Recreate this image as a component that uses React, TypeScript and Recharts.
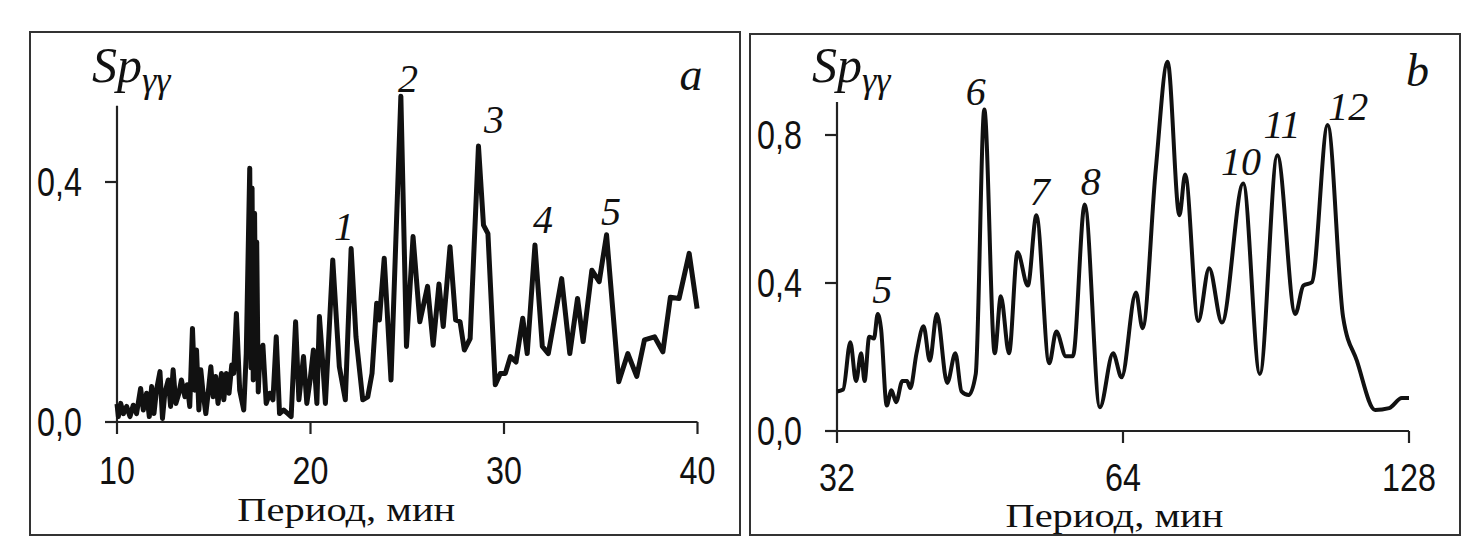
import React from 'react';
import { LineChart, Line, XAxis, YAxis, ReferenceLine, ReferenceDot } from 'recharts';

const SANS = '"Liberation Sans", Arial, sans-serif';
const SERIF = '"Liberation Serif", "Times New Roman", serif';
const INK = '#111';
const AXIS = '#222';

// panel a: period 10–40 min
const periodA = [
  10.0, 10.07, 10.19, 10.33, 10.5, 10.67, 10.84, 11.01, 11.22, 11.36, 11.53, 11.67, 11.79, 11.91,
  12.04, 12.22, 12.35, 12.47, 12.65, 12.77, 12.9, 13.04, 13.2, 13.33, 13.51, 13.63, 13.76, 13.9,
  14.02, 14.11, 14.23, 14.33, 14.45, 14.59, 14.71, 14.85, 14.97, 15.1, 15.22, 15.4, 15.52, 15.65,
  15.79, 15.93, 16.03, 16.17, 16.34, 16.55, 16.68, 16.86, 16.93, 16.98, 17.04, 17.11, 17.17, 17.22,
  17.3, 17.38, 17.54, 17.71, 17.89, 18.06, 18.23, 18.4, 18.61, 18.83, 19.0, 19.23, 19.4, 19.64,
  19.81, 19.98, 20.15, 20.33, 20.46, 20.6, 20.77, 21.15, 21.49, 21.8, 22.1, 22.35, 22.7, 22.96,
  23.18, 23.42, 23.56, 23.81, 24.16, 24.67, 24.96, 25.3, 25.65, 26.05, 26.34, 26.64, 26.86, 27.21,
  27.5, 27.73, 27.95, 28.25, 28.68, 28.94, 29.17, 29.55, 29.81, 30.07, 30.33, 30.62, 30.97, 31.2,
  31.6, 31.98, 32.29, 32.98, 33.4, 33.8, 34.09, 34.54, 34.92, 35.3, 35.93, 36.4, 36.86, 37.26,
  37.78, 38.21, 38.6, 39.05, 39.57, 39.98,
];
const spA = [
  0.03, 0.009, 0.031, 0.014, 0.026, 0.009, 0.028, 0.014, 0.056, 0.02, 0.048, 0.009, 0.059, 0.014,
  0.053, 0.084, 0.006, 0.048, 0.07, 0.026, 0.087, 0.031, 0.048, 0.07, 0.042, 0.062, 0.026, 0.156,
  0.053, 0.12, 0.02, 0.087, 0.048, 0.014, 0.048, 0.092, 0.042, 0.076, 0.031, 0.081, 0.037, 0.081,
  0.048, 0.095, 0.081, 0.181, 0.053, 0.02, 0.114, 0.423, 0.09, 0.39, 0.07, 0.348, 0.12, 0.3,
  0.05, 0.11, 0.128, 0.031, 0.048, 0.037, 0.142, 0.014, 0.02, 0.014, 0.009, 0.167, 0.037, 0.109,
  0.031, 0.07, 0.12, 0.031, 0.176, 0.114, 0.031, 0.27, 0.092, 0.037, 0.289, 0.142, 0.037, 0.042,
  0.081, 0.198, 0.17, 0.273, 0.07, 0.543, 0.126, 0.309, 0.167, 0.226, 0.128, 0.23, 0.159, 0.292,
  0.17, 0.167, 0.12, 0.139, 0.46, 0.328, 0.314, 0.062, 0.081, 0.081, 0.109, 0.1, 0.173, 0.114,
  0.295, 0.126, 0.114, 0.239, 0.114, 0.206, 0.134, 0.253, 0.234, 0.312, 0.067, 0.114, 0.076, 0.137,
  0.142, 0.117, 0.208, 0.206, 0.281, 0.189,
];

// panel b: period 32–128 min (log axis)
const periodB = [
  32, 32.48, 33.05, 33.51, 33.93, 34.21, 34.6, 35.0, 35.32, 35.6, 36.1, 36.51, 36.93, 37.49,
  37.92, 38.22, 38.8, 39.47, 40.07, 40.76, 41.8, 42.63, 43.27, 44.03, 44.79, 45.73, 46.9, 47.6,
  48.55, 49.56, 50.82, 51.88, 53.52, 54.45, 55.72, 56.68, 58.33, 60.51, 62.48, 63.78, 66.04, 67.11,
  69.29, 71.3, 73.38, 74.4, 76.8, 78.86, 81.34, 85.65, 89.17, 93.03, 97.17, 99.08, 101.16, 105.1,
  109.1, 112.8, 117.9, 122.0, 125.8, 128,
];
const spB = [
  0.107, 0.112, 0.24, 0.135, 0.21, 0.135, 0.255, 0.25, 0.316, 0.278, 0.069, 0.11, 0.078, 0.135,
  0.135, 0.116, 0.21, 0.283, 0.19, 0.316, 0.13, 0.21, 0.107, 0.097, 0.154, 0.869, 0.21, 0.364,
  0.21, 0.483, 0.393, 0.583, 0.183, 0.269, 0.202, 0.202, 0.612, 0.064, 0.21, 0.145, 0.374, 0.278,
  0.707, 0.998, 0.583, 0.693, 0.297, 0.44, 0.293, 0.669, 0.154, 0.745, 0.316, 0.393, 0.402, 0.827,
  0.308, 0.19, 0.057, 0.062, 0.089, 0.089,
];

const ticksXA = [10, 20, 30, 40];
const ticksYA = [0, 0.4];
const ticksXB = [32, 64, 128];
const ticksYB = [0, 0.4, 0.8];

// peak numbers: text, period at label centre, value at label baseline
const peakTextA = ['1', '2', '3', '4', '5'];
const peakXA = [21.73, 25.04, 29.48, 32.02, 35.53];
const peakYA = [0.303, 0.55, 0.482, 0.315, 0.328];
const peakTextB = ['5', '6', '7', '8', '10', '11', '12'];
const peakXB = [35.7, 44.8, 52.3, 59.2, 85.2, 94.1, 110.5];
const peakYB = [0.346, 0.881, 0.611, 0.638, 0.692, 0.792, 0.841];

const dataA = periodA.map((p, i) => ({ period: p, sp: spA[i] }));
const dataB = periodB.map((p, i) => ({ period: p, sp: spB[i] }));

const fmt = (v: number) => v.toFixed(1).replace('.', ',');

// tick digits in the original are tall and narrow, so stretch them a bit
const YTick = ({ x, y, payload }: any) => (
  <g transform={`translate(${x},${y}) scale(0.95,1.17)`}>
    <text x={0} y={0} dy="0.36em" textAnchor="end" fontFamily={SANS} fontSize={34} fill={INK}>
      {fmt(payload.value)}
    </text>
  </g>
);

const XTick = ({ x, y, payload }: any) => (
  <g transform={`translate(${x},${y}) scale(0.95,1.12)`}>
    <text x={0} y={0} dy="0.72em" textAnchor="middle" fontFamily={SANS} fontSize={34} fill={INK}>
      {payload.value}
    </text>
  </g>
);

const italicText = (txt: string, size: number) => (p: any) => (
  <text x={p.cx} y={p.cy} textAnchor="middle" fontFamily={SERIF} fontStyle="italic" fontSize={size} fill={INK}>
    {txt}
  </text>
);

const spLabel = (p: any) => (
  <text x={p.cx} y={p.cy} fontFamily={SERIF} fontStyle="italic" fill={INK}>
    <tspan fontSize={50}>Sp</tspan>
    <tspan fontSize={36} dy={10}>γγ</tspan>
  </text>
);

const xTitle = (frac: number, drop: number) => (p: any) => {
  const vb = p.viewBox;
  return (
    <text
      x={vb.x + vb.width * frac}
      y={vb.y + drop}
      textAnchor="middle"
      fontFamily={SERIF}
      fontSize={34}
      textLength={218}
      lengthAdjust="spacingAndGlyphs"
      fill={INK}
    >
      Период, мин
    </text>
  );
};

const frame = (left: number, top: number, w: number, h: number): React.CSSProperties => ({
  position: 'absolute', left, top, width: w, height: h, boxSizing: 'border-box', border: '2.5px solid #333',
});

export default function App() {
  return (
    <div style={{ position: 'absolute', left: 0, top: 0, width: 1481, height: 552, background: '#fff', overflow: 'hidden' }}>
      <div style={frame(29, 31, 712, 505)} />
      <div style={frame(749, 33, 712, 503)} />

      <div style={{ position: 'absolute', left: 0, top: 0 }}>
        <LineChart width={740} height={552} data={dataA} margin={{ top: 86, right: 42.5, bottom: 70, left: 57 }}>
          <XAxis
            dataKey="period" type="number" domain={[10, 40]} ticks={ticksXA} height={60}
            axisLine={{ stroke: AXIS, strokeWidth: 2.2 }} tickLine={{ stroke: AXIS, strokeWidth: 2.2 }}
            tickSize={12} tickMargin={23} tick={<XTick />} label={xTitle(0.395, 99)}
          />
          <YAxis
            type="number" domain={[0, 0.56]} ticks={ticksYA} width={60} axisLine={false}
            tickLine={{ stroke: AXIS, strokeWidth: 2.2 }} tickSize={12} tickMargin={23} tick={<YTick />}
          />
          <ReferenceLine segment={[{ x: 10, y: 0 }, { x: 10, y: 0.527 }]} stroke={AXIS} strokeWidth={2.2} ifOverflow="visible" />
          <Line type="linear" dataKey="sp" stroke={INK} strokeWidth={5} dot={false} isAnimationActive={false} strokeLinejoin="round" />
          {peakTextA.map((t, i) => (
            <ReferenceDot key={t} x={peakXA[i]} y={peakYA[i]} r={0} ifOverflow="visible" shape={italicText(t, 40)} />
          ))}
          <ReferenceDot x={39.66} y={0.553} r={0} ifOverflow="visible" shape={italicText('a', 46)} />
          <ReferenceDot x={8.71} y={0.567} r={0} ifOverflow="visible" shape={spLabel} />
        </LineChart>
      </div>

      <div style={{ position: 'absolute', left: 740, top: 0 }}>
        <LineChart width={741} height={552} data={dataB} margin={{ top: 53.6, right: 72, bottom: 61, left: 37 }}>
          <XAxis
            dataKey="period" type="number" scale="log" domain={[32, 128]} ticks={ticksXB} height={60}
            axisLine={{ stroke: AXIS, strokeWidth: 2.2 }} tickLine={{ stroke: AXIS, strokeWidth: 2.2 }}
            tickSize={12} tickMargin={21} tick={<XTick />} label={xTitle(0.485, 96)}
          />
          <YAxis
            type="number" domain={[0, 1.02]} ticks={ticksYB} width={60} axisLine={false}
            tickLine={{ stroke: AXIS, strokeWidth: 2.2 }} tickSize={12} tickMargin={23} tick={<YTick />}
          />
          <ReferenceLine segment={[{ x: 32, y: 0 }, { x: 32, y: 0.889 }]} stroke={AXIS} strokeWidth={2.2} ifOverflow="visible" />
          <Line type="monotone" dataKey="sp" stroke={INK} strokeWidth={4} dot={false} isAnimationActive={false} strokeLinejoin="round" />
          {peakTextB.map((t, i) => (
            <ReferenceDot key={t} x={peakXB[i]} y={peakYB[i]} r={0} ifOverflow="visible" shape={italicText(t, 40)} />
          ))}
          <ReferenceDot x={130.7} y={0.932} r={0} ifOverflow="visible" shape={italicText('b', 46)} />
          <ReferenceDot x={30.12} y={0.943} r={0} ifOverflow="visible" shape={spLabel} />
        </LineChart>
      </div>
    </div>
  );
}
